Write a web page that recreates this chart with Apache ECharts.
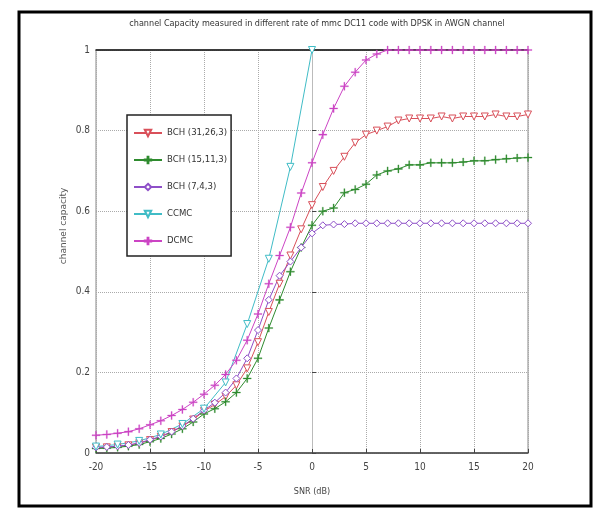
<!DOCTYPE html>
<html><head><meta charset="utf-8">
<script src="https://cdn.jsdelivr.net/npm/echarts@6/dist/echarts.min.js"></script>
<style>html,body{margin:0;padding:0;background:#fff}#c{width:604px;height:510px}</style>
</head><body><div id="c"></div>
<script>
const snr = [-20,-19,-18,-17,-16,-15,-14,-13,-12,-11,-10,-9,-8,-7,-6,-5,-4,-3,-2,-1,0,1,2,3,4,5,6,7,8,9,10,11,12,13,14,15,16,17,18,19,20];
const bch31 = [0.013,0.014,0.016,0.019,0.024,0.032,0.040,0.052,0.066,0.083,0.104,0.12,0.14,0.168,0.21,0.275,0.35,0.42,0.49,0.555,0.615,0.66,0.70,0.735,0.77,0.79,0.80,0.81,0.825,0.83,0.83,0.83,0.835,0.83,0.835,0.835,0.835,0.84,0.835,0.835,0.84];
const bch15 = [0.011,0.012,0.014,0.017,0.021,0.028,0.036,0.047,0.060,0.077,0.097,0.11,0.127,0.15,0.185,0.235,0.31,0.38,0.45,0.51,0.565,0.60,0.608,0.646,0.654,0.667,0.69,0.70,0.705,0.715,0.715,0.72,0.72,0.72,0.722,0.725,0.725,0.728,0.73,0.732,0.733];
const bch7 = [0.014,0.015,0.017,0.020,0.025,0.033,0.041,0.053,0.067,0.085,0.106,0.125,0.15,0.185,0.235,0.305,0.38,0.44,0.475,0.51,0.545,0.565,0.567,0.568,0.57,0.57,0.57,0.57,0.57,0.57,0.57,0.57,0.57,0.57,0.57,0.57,0.57,0.57,0.57,0.57,0.57];
const ccmcSnr = [-20,-18,-16,-14,-12,-10,-8,-6,-4,-2,0];
const ccmc = [0.016,0.021,0.03,0.046,0.072,0.11,0.175,0.32,0.482,0.71,1.0];
const dcmc = [0.044,0.046,0.049,0.053,0.060,0.070,0.080,0.093,0.108,0.126,0.146,0.168,0.195,0.23,0.28,0.345,0.42,0.49,0.56,0.645,0.72,0.79,0.855,0.91,0.945,0.975,0.99,1,1,1,1,1,1,1,1,1,1,1,1,1,1];
const names = ['BCH (31,26,3)','BCH (15,11,3)','BCH (7,4,3)','CCMC','DCMC'];

const plus = 'path://M4,0h1.2v4h4v1.2h-4v4h-1.2v-4h-4v-1.2h4z';
const font = "'Liberation Sans Narrow','DejaVu Sans Condensed','Liberation Sans',sans-serif";
function pairs(xs, v){ return v.map((y,i)=>[xs[i],y]); }
function mk(name, data, color, symbol, hollow, rot){
  return {
    name, type:'line', data, symbol, symbolSize: hollow?7:8, symbolRotate: rot||0,
    lineStyle:{color, width:1}, showAllSymbol:true,
    itemStyle: hollow ? {color:'#fff', borderColor:color, borderWidth:1} : {color, borderColor:color, borderWidth:0.3},
    clip:true, animation:false, z:3
  };
}
const chart = echarts.init(document.getElementById('c'));
chart.setOption({
  animation:false,
  backgroundColor:'#fff',
  title:{text:'channel Capacity measured in different rate of mmc DC11 code with DPSK in AWGN channel',
    left:312, textAlign:'center', top:14, textStyle:{fontSize:9, fontWeight:'normal', color:'#333', fontFamily:font}},
  grid:{left:96, right:76, top:50, bottom:57, show:true, borderColor:'#888', borderWidth:1},
  legend:{orient:'vertical', left:127, top:115, width:86, height:147, data:names,
    backgroundColor:'#fff', borderColor:'#222', borderWidth:1.5, padding:[13,4,10,6],
    itemWidth:28, itemHeight:8, itemGap:17,
    textStyle:{fontSize:9.5, color:'#333', fontFamily:font}},
  xAxis:[{type:'value', min:-20, max:20, interval:5,
    name:'SNR (dB)', nameLocation:'middle', nameGap:34, nameTextStyle:{fontSize:9,color:'#444',fontFamily:font},
    axisLine:{show:true, lineStyle:{color:'#444', width:1.5}},
    axisTick:{show:true, inside:true, length:4, lineStyle:{color:'#444'}},
    axisLabel:{fontSize:10, color:'#444', fontFamily:font, margin:9},
    splitLine:{show:true, lineStyle:{color:'#aaa', type:'dotted', width:1}}},
   {type:'value', position:'top', min:-20, max:20, interval:5,
    axisLine:{show:true, lineStyle:{color:'#111', width:1.5}}, axisTick:{show:false}, axisLabel:{show:false}, splitLine:{show:false}}],
  yAxis:{type:'value', min:0, max:1, interval:0.2,
    axisLine:{show:true, lineStyle:{color:'#bbb', width:1}},
    axisTick:{show:true, inside:true, length:4, lineStyle:{color:'#444'}},
    axisLabel:{fontSize:10, color:'#444', fontFamily:font, margin:6, formatter:v=>String(Math.round(v*10)/10)},
    splitLine:{show:true, lineStyle:{color:'#aaa', type:'dotted', width:1}}},
  graphic:[
    {type:'rect', shape:{x:19, y:12, width:572, height:494}, style:{fill:'none', stroke:'#000', lineWidth:3}, silent:true},
    {type:'text', x:64, y:226, rotation:Math.PI/2, style:{text:'channel capacity', fill:'#555', font:"9px 'DejaVu Sans',sans-serif", align:'center', verticalAlign:'middle'}, silent:true}
  ],
  series:[
    mk(names[0], pairs(snr,bch31), '#d9505a', 'triangle', true, 180),
    mk(names[1], pairs(snr,bch15), '#2e8b2e', plus, false),
    mk(names[2], pairs(snr,bch7), '#8e4fc8', 'diamond', true),
    mk(names[3], pairs(ccmcSnr,ccmc), '#40bcc6', 'triangle', true, 180),
    mk(names[4], pairs(snr,dcmc), '#cc44c4', plus, false)
  ]
});
</script></body></html>
